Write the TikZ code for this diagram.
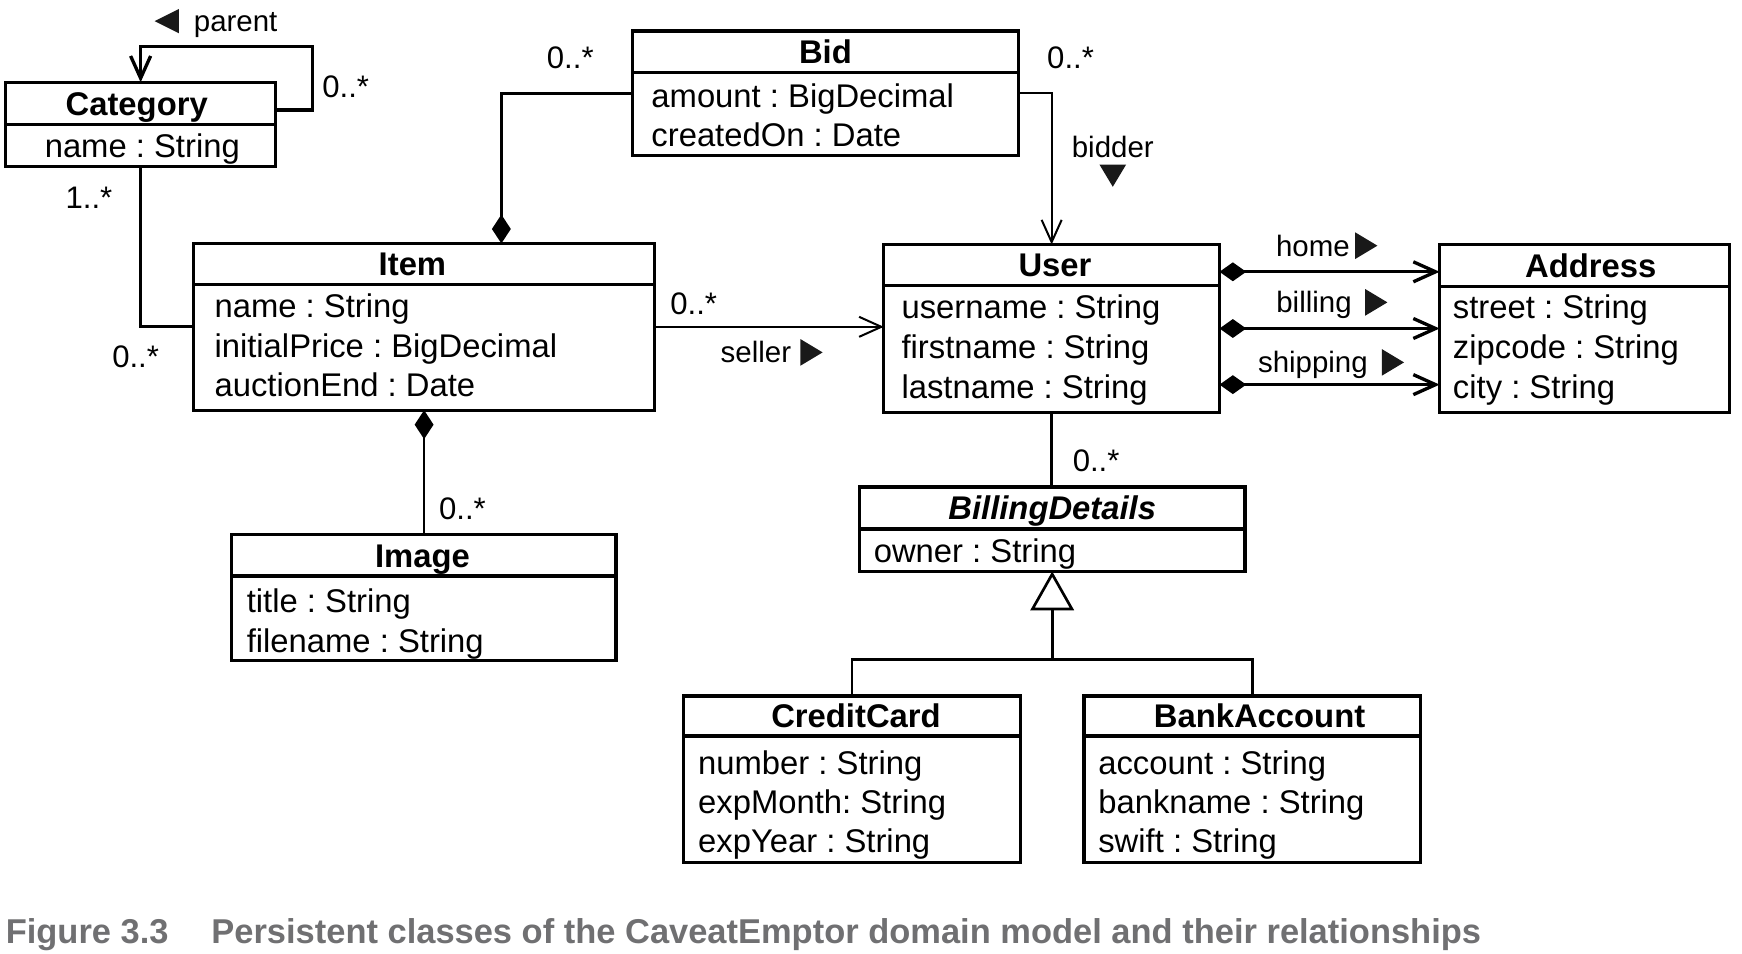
\documentclass[tikz,border=0pt]{standalone}
\usepackage{fontspec}
\setmainfont{Liberation Sans}
\newfontfamily\capfont{Liberation Sans}
\usetikzlibrary{arrows.meta,calc}
\frenchspacing
\definecolor{capgray}{RGB}{112,112,114}
\definecolor{tricol}{RGB}{25,25,25}
\tikzset{
  box/.style={draw, line width=3pt, inner sep=0pt, outer sep=0pt, fill=white},
  txt/.style={inner sep=0pt, outer sep=0pt, text depth=0pt},
  ttl/.style={txt, text height=21.1pt, font=\fontsize{29.5}{34}\selectfont\bfseries},
  attr/.style={txt, text height=21.1pt, anchor=west, font=\fontsize{29.5}{34}\selectfont},
  mult/.style={txt, text height=20pt, font=\fontsize{28}{32}\selectfont},
  role/.style={txt, text height=19pt, font=\fontsize{26.5}{30}\selectfont},
  divider/.style={line width=3pt},
  thickline/.style={line width=3pt},
  midline/.style={line width=2.4pt},
  thinline/.style={line width=1.8pt},
  navarrow/.style={-{Straight Barb[length=20pt,width=18pt]}},
  comp/.style={{Diamond[length=26pt,width=17pt]}-},
  compnav/.style={{Diamond[length=24pt,width=17pt]}-{Straight Barb[length=20pt,width=18pt]}},
  gen/.style={-{Triangle[open,length=35pt,width=39pt,fill=white]}},
  dirtri/.style={fill=tricol, draw=none},
  captext/.style={inner sep=0pt, anchor=west, text=capgray, text height=22.2pt, text depth=0pt,
    font=\capfont\fontsize{31}{36}\selectfont\bfseries},
}
\begin{document}
\begin{tikzpicture}[x=1pt,y=-1pt]
\useasboundingbox (0,0) rectangle (1567,858);

% ---------- Category ----------
\node[box, minimum width=243pt, minimum height=76pt] (cat) at (126.5,112) {};
\draw[divider] (5,112) -- (248,112);
\node[ttl] (catT) at (123,93) {Category};
\node[txt, text height=21.1pt, font=\fontsize{29.5}{34}\selectfont] (catA1) at (128,131) {name : String};

% ---------- Bid ----------
\node[box, minimum width=347pt, minimum height=112pt] (bid) at (742.5,84) {};
\draw[divider] (569,65) -- (916,65);
\node[ttl] (bidT) at (742.5,46.5) {Bid};
\node[attr] (bidA1) at (586,86) {amount : BigDecimal};
\node[attr] (bidA2) at (586,121) {createdOn : Date};

% ---------- Item ----------
\node[box, minimum width=415pt, minimum height=150pt] (item) at (381.5,294) {};
\draw[divider] (174,256) -- (589,256);
\node[ttl] (itemT) at (371,237.5) {Item};
\node[attr] (itemA1) at (193,275) {name : String};
\node[attr] (itemA2) at (193,311) {initialPrice : BigDecimal};
\node[attr] (itemA3) at (193,346) {auctionEnd : Date};

% ---------- User ----------
\node[box, minimum width=302pt, minimum height=151pt] (user) at (946,295.5) {};
\draw[divider] (795,257) -- (1097,257);
\node[ttl] (userT) at (949,238.5) {User};
\node[attr] (userA1) at (811,276) {username : String};
\node[attr] (userA2) at (811,312) {firstname : String};
\node[attr] (userA3) at (811,348) {lastname : String};

% ---------- Address ----------
\node[box, minimum width=261pt, minimum height=151pt] (addr) at (1425.5,295.5) {};
\draw[divider] (1295,258) -- (1556,258);
\node[ttl] (addrT) at (1431,239) {Address};
\node[attr] (addrA1) at (1307,276) {street : String};
\node[attr] (addrA2) at (1307,312) {zipcode : String};
\node[attr] (addrA3) at (1307,348) {city : String};

% ---------- Image ----------
\node[box, minimum width=346pt, minimum height=113pt] (image) at (381,537.5) {};
\draw[divider] (208,518) -- (554,518);
\node[ttl] (imageT) at (380,499.5) {Image};
\node[attr] (imageA1) at (222,540) {title : String};
\node[attr] (imageA2) at (222,576) {filename : String};

% ---------- BillingDetails ----------
\node[box, minimum width=347pt, minimum height=76pt] (bd) at (946.5,476) {};
\draw[divider] (773,476) -- (1120,476);
\node[ttl, font=\fontsize{29.5}{34}\selectfont\bfseries\itshape] (bdT) at (946.5,457) {BillingDetails};
\node[attr] (bdA1) at (786,495) {owner : String};

% ---------- CreditCard ----------
\node[box, minimum width=303pt, minimum height=150pt] (cc) at (766.5,701) {};
\draw[divider] (615,662) -- (918,662);
\node[ttl] (ccT) at (770,644) {CreditCard};
\node[attr] (ccA1) at (628,686) {number : String};
\node[attr] (ccA2) at (628,721) {expMonth: String};
\node[attr] (ccA3) at (628,756) {expYear : String};

% ---------- BankAccount ----------
\node[box, minimum width=303pt, minimum height=150pt] (ba) at (1126.5,701) {};
\draw[divider] (975,662) -- (1278,662);
\node[ttl] (baT) at (1133,644) {BankAccount};
\node[attr] (baA1) at (988,686) {account : String};
\node[attr] (baA2) at (988,721) {bankname : String};
\node[attr] (baA3) at (988,756) {swift : String};

% ---------- connectors ----------
\coordinate (loopc) at (281,42);
\draw[thickline, navarrow] ([yshift=13pt]cat.east) -| (loopc) -| (cat.north);
\draw[thickline] (cat.south) |- (item.west);
\draw[thickline, comp] ([xshift=69.5pt]item.north) |- (bid.west);
\draw[thinline, navarrow] (bid.east) -| (user.north);
\draw[thinline, navarrow] (item.east) -- (item.east -| user.west);
\draw[thickline, compnav] ([yshift=51pt]user.east) -- ([yshift=51pt]user.east -| addr.west);
\draw[thickline, compnav] (user.east) -- (user.east -| addr.west);
\draw[thickline, compnav] ([yshift=-50.5pt]user.east) -- ([yshift=-50.5pt]user.east -| addr.west);
\draw[thinline, comp] (item.south) -- (item.south |- image.north);
\draw[midline] (user.south) -- (user.south |- bd.north);
\coordinate (gj) at (946.5,593);
\draw[midline, gen] (gj) -- (bd.south);
\draw[midline, line join=miter] (cc.north) |- (ba.north |- gj) -- (ba.north);

% ---------- multiplicities ----------
\node[mult] (m1) at (311,78) {0..*};
\node[mult] (m2) at (80,178) {1..*};
\node[mult] (m3) at (122,321) {0..*};
\node[mult] (m4) at (513,52) {0..*};
\node[mult] (m5) at (963,52) {0..*};
\node[mult] (m6) at (624,273) {0..*};
\node[mult] (m7) at (416,457) {0..*};
\node[mult] (m8) at (986,414) {0..*};

% ---------- role labels ----------
\node[role] (rParent) at (212,19) {parent};
\fill[dirtri] (139,19) -- (161,8) -- (161,30) -- cycle;
\node[role] (rBidder) at (1001,132) {bidder};
\fill[dirtri] (1001,168) -- (989,148) -- (1013,148) -- cycle;
\node[role] (rSeller) at (680,317) {seller};
\fill[dirtri] (740,317) -- (720,305) -- (720,329) -- cycle;
\node[role] (rHome) at (1181,221) {home};
\fill[dirtri] (1239,221) -- (1219,209) -- (1219,233) -- cycle;
\node[role] (rBilling) at (1182,272) {billing};
\fill[dirtri] (1248,272) -- (1228,260) -- (1228,284) -- cycle;
\node[role] (rShipping) at (1181,326) {shipping};
\fill[dirtri] (1263,326) -- (1243,314) -- (1243,338) -- cycle;

% ---------- caption ----------
\node[captext] (cap1) at (5,838) {Figure 3.3};
\node[captext] (cap2) at (190,838) {Persistent classes of the CaveatEmptor domain model and their relationships};
\end{tikzpicture}
\end{document}
